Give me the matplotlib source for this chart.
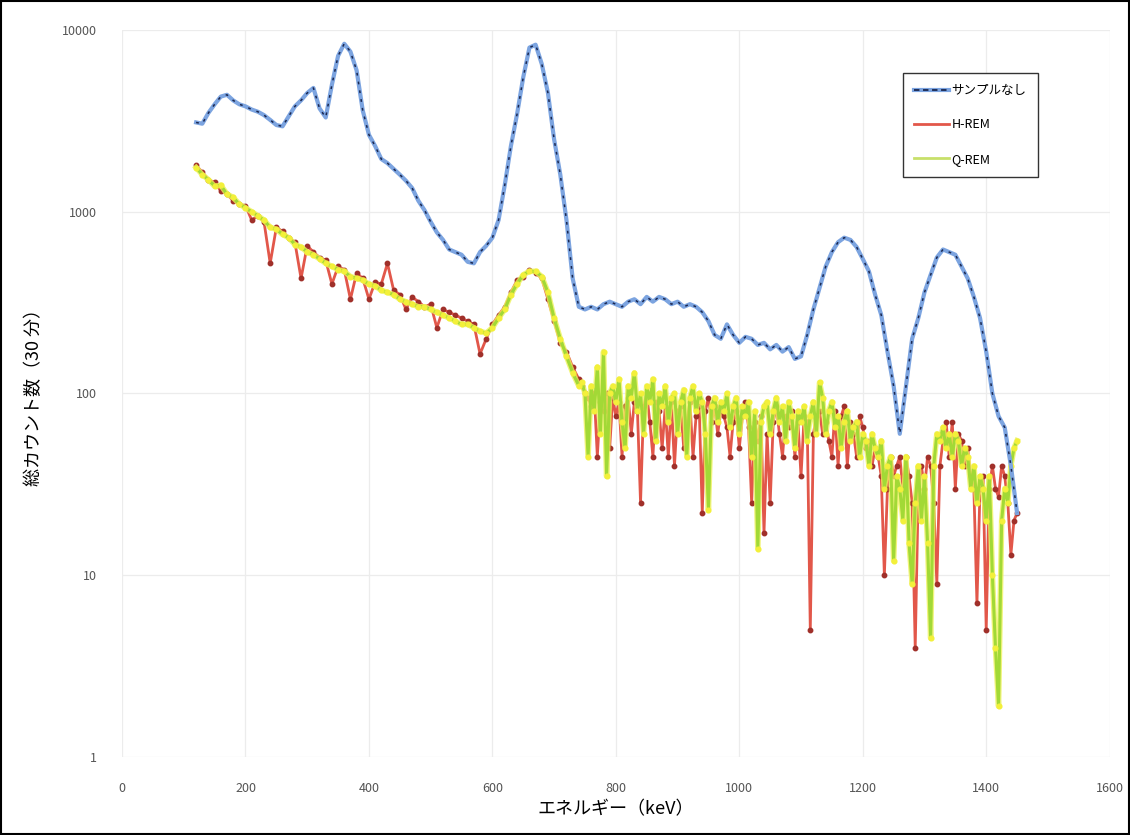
import numpy as np
import matplotlib
matplotlib.use("Agg")
import matplotlib.pyplot as plt
from matplotlib.patches import Rectangle
from matplotlib.lines import Line2D
from matplotlib.ticker import FixedLocator, FixedFormatter

plt.rcParams['font.family'] = ['Noto Sans CJK JP', 'DejaVu Sans']

# Energy channels (keV) for the no-sample spectrum
energy_blank = list(range(120, 1451, 10))
# Energy channels (keV) for the shielded spectra
energy_rem = list(range(120, 741, 10)) + list(range(745, 1451, 5))

# サンプルなし (no sample)
no_sample = [
    3100, 3050, 3500, 3900, 4300, 4400, 4100, 3900, 3800, 3650,
    3550, 3400, 3200, 3000, 2950, 3350, 3800, 4100, 4500, 4800,
    3700, 3300, 5000, 7200, 8400, 7600, 6000, 3600, 2650, 2300,
    1950, 1850, 1720, 1600, 1480, 1350, 1150, 1020, 880, 770,
    700, 620, 600, 580, 530, 520, 600, 650, 720, 900,
    1400, 2300, 3450, 5500, 8000, 8300, 6500, 4500, 2500, 1600,
    900, 430, 300, 290, 300, 290, 310, 320, 310, 300,
    320, 330, 310, 340, 320, 340, 330, 310, 320, 300,
    310, 300, 280, 250, 210, 200, 240, 210, 190, 205,
    200, 185, 190, 175, 185, 170, 180, 155, 160, 210,
    290, 380, 500, 600, 680, 720, 700, 640, 550, 470,
    350, 270, 170, 110, 60, 110, 200, 260, 360, 450,
    560, 620, 600, 580, 500, 430, 340, 260, 170, 100,
    75, 65, 40, 22,
]

# H-REM
h_rem = [
    1800, 1650, 1500, 1450, 1300, 1250, 1150, 1100, 1080, 900,
    950, 880, 520, 820, 780, 720, 680, 430, 650, 600,
    560, 540, 400, 500, 480, 330, 460, 430, 330, 410,
    400, 520, 370, 350, 290, 340, 320, 300, 310, 230,
    290, 280, 270, 260, 250, 240, 165, 200, 240, 270,
    300, 360, 420, 440, 480, 460, 430, 330, 250, 190,
    170, 140, 120,
    110, 100, 95, 85, 100, 45, 90, 80, 100, 50,
    95, 75, 90, 45, 85, 95, 60, 90, 80, 25,
    85, 100, 70, 45, 90, 80, 50, 85, 45, 90,
    40, 80, 85, 50, 70, 90, 45, 75, 85, 22,
    80, 95, 70, 85, 60, 80, 75, 65, 45, 70,
    80, 50, 75, 90, 65, 25, 70, 55, 75, 17,
    60, 25, 70, 85, 60, 45, 75, 65, 80, 45,
    70, 35, 75, 70, 5, 60, 75, 80, 60, 70,
    55, 45, 80, 40, 75, 85, 40, 70, 60, 45,
    75, 65, 50, 55, 40, 50, 45, 35, 10, 30,
    45, 35, 40, 45, 30, 45, 35, 25, 4, 30,
    40, 30, 45, 40, 25, 9, 40, 55, 70, 45,
    70, 30, 60, 55, 40, 50, 35, 30, 7, 30,
    35, 5, 30, 40, 30, 27, 40, 35, 25, 13,
    20, 22,
]

# Q-REM
q_rem = [
    1750, 1600, 1500, 1380, 1400, 1250, 1200, 1100, 1050, 1000,
    950, 900, 820, 800, 750, 720, 660, 640, 600, 580,
    550, 520, 500, 480, 470, 440, 430, 420, 400, 390,
    370, 360, 350, 330, 320, 310, 300, 300, 290, 280,
    270, 260, 250, 240, 240, 230, 220, 215, 230, 260,
    290, 350, 400, 450, 470, 470, 440, 360, 260, 200,
    160, 130, 110,
    115, 100, 45, 110, 80, 140, 60, 170, 35, 100,
    110, 90, 120, 70, 50, 110, 95, 130, 80, 100,
    60, 110, 90, 120, 55, 100, 85, 110, 70, 95,
    100, 60, 90, 105, 45, 95, 110, 80, 100, 90,
    60, 23, 85, 95, 70, 90, 80, 100, 65, 85,
    95, 60, 85, 75, 90, 45, 80, 14, 70, 85,
    90, 60, 80, 95, 70, 85, 55, 90, 75, 50,
    80, 70, 85, 55, 75, 90, 60, 115, 95, 60,
    80, 90, 65, 75, 50, 70, 80, 55, 65, 70,
    45, 60, 55, 40, 60, 50, 45, 55, 30, 40,
    45, 12, 35, 30, 20, 45, 15, 9, 25, 40,
    20, 35, 15, 4.5, 40, 60, 55, 65, 50, 60,
    45, 60, 55, 40, 50, 45, 30, 40, 25, 35,
    30, 20, 35, 10, 4, 1.9, 20, 30, 25, 40,
    50, 55,
]

series_labels = ['サンプルなし', 'H-REM', 'Q-REM']
x_ticks = [0, 200, 400, 600, 800, 1000, 1200, 1400, 1600]
y_ticks = [1, 10, 100, 1000, 10000]
y_tick_labels = ['1', '10', '100', '1000', '10000']

fig = plt.figure(figsize=(11.3, 8.35), dpi=100)
ax = fig.add_axes([0.108, 0.0934, 0.874, 0.8707])

blue = '#7ca4e0'
navy = '#1a2750'
red = '#e2574a'
green = '#a2d936'

# H-REM
ax.plot(energy_rem, h_rem, color=red, lw=2.0, zorder=2)
ax.plot(energy_rem, h_rem, ls='none', marker='o', ms=3.2, color='#a0302a', zorder=2.1)
# Q-REM
ax.plot(energy_rem, q_rem, color='#eef25a', lw=4.0, alpha=0.8, zorder=2.9)
ax.plot(energy_rem, q_rem, color=green, lw=2.2, zorder=3)
ax.plot(energy_rem, q_rem, ls='none', marker='o', ms=3.4, color='#f3f03a', zorder=3.1)
# no sample
ax.plot(energy_blank, no_sample, color=blue, lw=3.0, zorder=4)
ax.plot(energy_blank, no_sample, color=navy, lw=1.1, ls=(0, (1.8, 4)), zorder=4.1)

ax.set_yscale('log')
ax.set_xlim(0, 1600)
ax.set_ylim(1, 10000)
ax.xaxis.set_major_locator(FixedLocator(x_ticks))
ax.set_xticklabels([str(t) for t in x_ticks])
ax.yaxis.set_major_locator(FixedLocator(y_ticks))
ax.yaxis.set_major_formatter(FixedFormatter(y_tick_labels))
ax.yaxis.set_minor_locator(FixedLocator([]))
ax.tick_params(axis='both', length=0, labelsize=9, labelcolor='#555555')
ax.tick_params(axis='x', pad=18)
ax.tick_params(axis='y', pad=18)
for s in ax.spines.values():
    s.set_visible(False)
ax.grid(True, which='major', color='#ececec', lw=0.9)
ax.set_axisbelow(True)

ax.set_xlabel('エネルギー（keV）', fontsize=13, labelpad=4)
ax.set_ylabel('総カウント数（30 分）', fontsize=13, labelpad=14)

h0 = (Line2D([], [], color=blue, lw=3.0), Line2D([], [], color=navy, lw=1.3, ls=(0, (3, 2))))
h1 = Line2D([], [], color=red, lw=2.0)
h2 = Line2D([], [], color='#c8e06a', lw=2.0)
leg = fig.legend([h0, h1, h2], series_labels, loc='upper left',
                 bbox_to_anchor=(0.799, 0.9126), fontsize=9, frameon=True,
                 fancybox=False, edgecolor='#333333', framealpha=1,
                 handlelength=2.8, handletextpad=0.2, labelspacing=1.7,
                 borderpad=0.9, borderaxespad=0)
leg.get_frame().set_linewidth(1.0)

fig.add_artist(Rectangle((0.001, 0.001), 0.998, 0.998, transform=fig.transFigure,
                         fill=False, edgecolor='black', lw=1.5))

fig.savefig('out.png', dpi=100)
